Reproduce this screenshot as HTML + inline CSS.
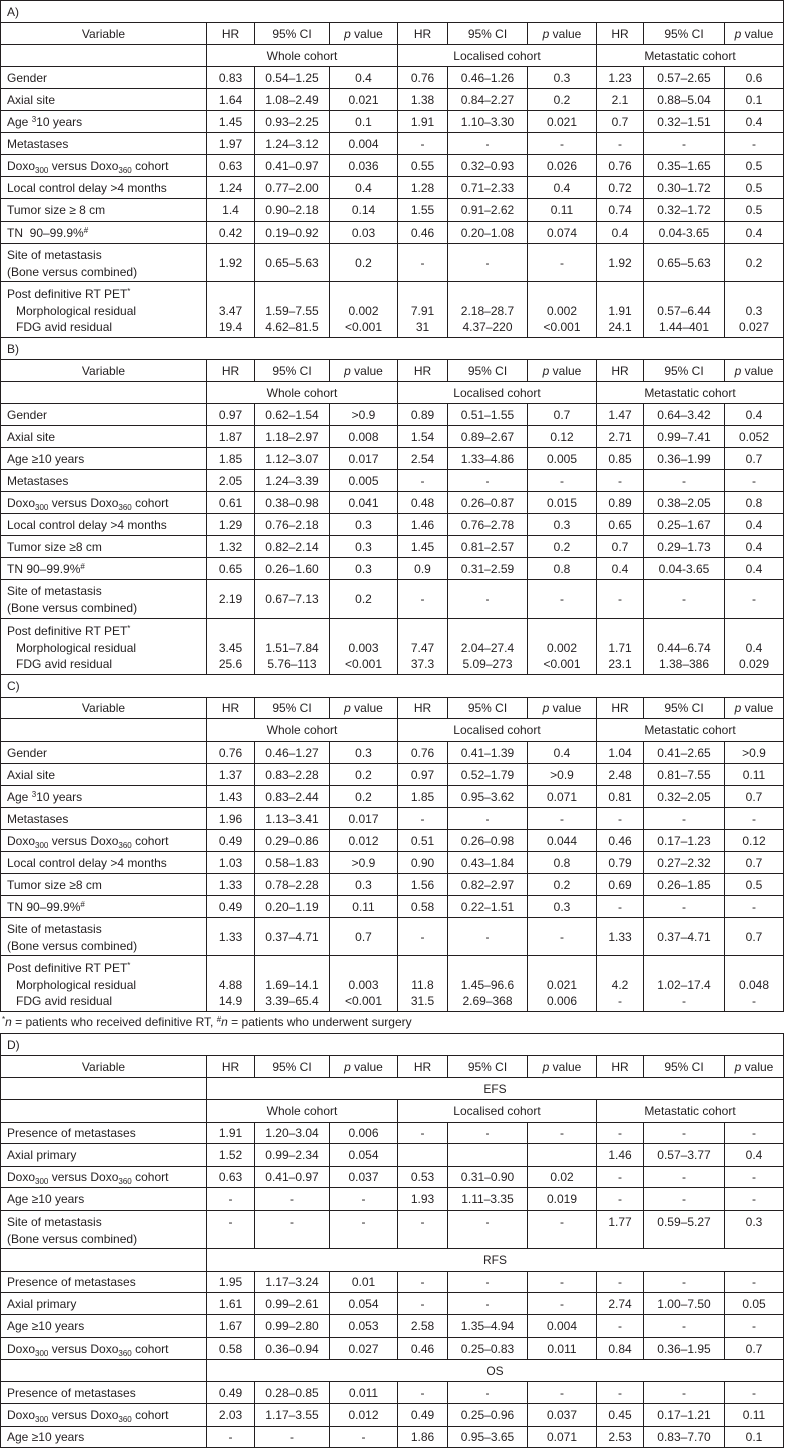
<!DOCTYPE html>
<html>
<head>
<meta charset="utf-8">
<style>
html,body{margin:0;padding:0;background:#fff;}
body{width:785px;height:1448px;position:relative;overflow:hidden;font-family:"Liberation Sans",Arial,sans-serif;font-size:12px;color:#231f20;}
.g{position:absolute;left:0;display:grid;grid-template-columns:206px 48px 75px 68px 50px 80px 69px 47px 81px 59px;border-left:1px solid #231f20;border-top:1px solid #231f20;width:783px;}
.g>div{box-sizing:border-box;border-right:1px solid #231f20;border-bottom:1px solid #231f20;display:flex;align-items:center;justify-content:center;white-space:nowrap;overflow:hidden;}
.g>div.v{justify-content:flex-start;padding-left:6px;}
.g>div.t{grid-column:span 10;justify-content:flex-start;padding-left:6px;}
.g>div.s3{grid-column:span 3;}
.g>div.s9{grid-column:span 9;}
.g>div.m{display:block;padding-top:3px;line-height:17px;}
.g>div.p{display:block;padding-top:4px;line-height:16.5px;text-align:center;}
.g>div.v.p{text-align:left;}
.g>div.top{display:block;padding-top:3px;line-height:17px;text-align:center;}
.in{padding-left:9px;}
sub{font-size:8px;vertical-align:-3px;line-height:0;}
sup{font-size:8px;vertical-align:4px;line-height:0;}
#abc{top:0;grid-template-rows:22px 22px 22px 22px 22px 22px 22px 22px 22px 23px 22px 38px 56px 22px 22px 22px 22px 22px 22px 22px 22px 22px 22px 22px 39px 56px 23px 21px 23px 22px 22px 22px 22px 22px 22px 22px 22px 38px 56px;}
#d{top:1033px;grid-template-rows:22px 22px 22px 23px 21px 23px 21px 23px 38px 23px 21px 22px 23px 22px 22px 22px 23px 21px;}
#fn{position:absolute;left:2px;top:1012px;height:21px;line-height:21px;white-space:nowrap;}
</style>
</head>
<body>
<div class="g" id="abc">
<!-- A -->
<div class="t">A)</div>
<div>Variable</div><div>HR</div><div>95% CI</div><div><span><i>p</i> value</span></div><div>HR</div><div>95% CI</div><div><span><i>p</i> value</span></div><div>HR</div><div>95% CI</div><div><span><i>p</i> value</span></div>
<div></div><div class="s3">Whole cohort</div><div class="s3">Localised cohort</div><div class="s3">Metastatic cohort</div>
<div class="v">Gender</div><div>0.83</div><div>0.54–1.25</div><div>0.4</div><div>0.76</div><div>0.46–1.26</div><div>0.3</div><div>1.23</div><div>0.57–2.65</div><div>0.6</div>
<div class="v">Axial site</div><div>1.64</div><div>1.08–2.49</div><div>0.021</div><div>1.38</div><div>0.84–2.27</div><div>0.2</div><div>2.1</div><div>0.88–5.04</div><div>0.1</div>
<div class="v"><span>Age <sup>3</sup>10 years</span></div><div>1.45</div><div>0.93–2.25</div><div>0.1</div><div>1.91</div><div>1.10–3.30</div><div>0.021</div><div>0.7</div><div>0.32–1.51</div><div>0.4</div>
<div class="v">Metastases</div><div>1.97</div><div>1.24–3.12</div><div>0.004</div><div>-</div><div>-</div><div>-</div><div>-</div><div>-</div><div>-</div>
<div class="v"><span>Doxo<sub>300</sub> versus Doxo<sub>360</sub> cohort</span></div><div>0.63</div><div>0.41–0.97</div><div>0.036</div><div>0.55</div><div>0.32–0.93</div><div>0.026</div><div>0.76</div><div>0.35–1.65</div><div>0.5</div>
<div class="v">Local control delay &gt;4 months</div><div>1.24</div><div>0.77–2.00</div><div>0.4</div><div>1.28</div><div>0.71–2.33</div><div>0.4</div><div>0.72</div><div>0.30–1.72</div><div>0.5</div>
<div class="v">Tumor size ≥ 8 cm</div><div>1.4</div><div>0.90–2.18</div><div>0.14</div><div>1.55</div><div>0.91–2.62</div><div>0.11</div><div>0.74</div><div>0.32–1.72</div><div>0.5</div>
<div class="v"><span>TN&nbsp;&nbsp;90–99.9%<sup>#</sup></span></div><div>0.42</div><div>0.19–0.92</div><div>0.03</div><div>0.46</div><div>0.20–1.08</div><div>0.074</div><div>0.4</div><div>0.04-3.65</div><div>0.4</div>
<div class="v m">Site of metastasis<br>(Bone versus combined)</div><div>1.92</div><div>0.65–5.63</div><div>0.2</div><div>-</div><div>-</div><div>-</div><div>1.92</div><div>0.65–5.63</div><div>0.2</div>
<div class="v p">Post definitive RT PET<sup>*</sup><br><span class="in">Morphological residual</span><br><span class="in">FDG avid residual</span></div><div class="p">&nbsp;<br>3.47<br>19.4</div><div class="p">&nbsp;<br>1.59–7.55<br>4.62–81.5</div><div class="p">&nbsp;<br>0.002<br>&lt;0.001</div><div class="p">&nbsp;<br>7.91<br>31</div><div class="p">&nbsp;<br>2.18–28.7<br>4.37–220</div><div class="p">&nbsp;<br>0.002<br>&lt;0.001</div><div class="p">&nbsp;<br>1.91<br>24.1</div><div class="p">&nbsp;<br>0.57–6.44<br>1.44–401</div><div class="p">&nbsp;<br>0.3<br>0.027</div>
<!-- B -->
<div class="t">B)</div>
<div>Variable</div><div>HR</div><div>95% CI</div><div><span><i>p</i> value</span></div><div>HR</div><div>95% CI</div><div><span><i>p</i> value</span></div><div>HR</div><div>95% CI</div><div><span><i>p</i> value</span></div>
<div></div><div class="s3">Whole cohort</div><div class="s3">Localised cohort</div><div class="s3">Metastatic cohort</div>
<div class="v">Gender</div><div>0.97</div><div>0.62–1.54</div><div>&gt;0.9</div><div>0.89</div><div>0.51–1.55</div><div>0.7</div><div>1.47</div><div>0.64–3.42</div><div>0.4</div>
<div class="v">Axial site</div><div>1.87</div><div>1.18–2.97</div><div>0.008</div><div>1.54</div><div>0.89–2.67</div><div>0.12</div><div>2.71</div><div>0.99–7.41</div><div>0.052</div>
<div class="v">Age ≥10 years</div><div>1.85</div><div>1.12–3.07</div><div>0.017</div><div>2.54</div><div>1.33–4.86</div><div>0.005</div><div>0.85</div><div>0.36–1.99</div><div>0.7</div>
<div class="v">Metastases</div><div>2.05</div><div>1.24–3.39</div><div>0.005</div><div>-</div><div>-</div><div>-</div><div>-</div><div>-</div><div>-</div>
<div class="v"><span>Doxo<sub>300</sub> versus Doxo<sub>360</sub> cohort</span></div><div>0.61</div><div>0.38–0.98</div><div>0.041</div><div>0.48</div><div>0.26–0.87</div><div>0.015</div><div>0.89</div><div>0.38–2.05</div><div>0.8</div>
<div class="v">Local control delay &gt;4 months</div><div>1.29</div><div>0.76–2.18</div><div>0.3</div><div>1.46</div><div>0.76–2.78</div><div>0.3</div><div>0.65</div><div>0.25–1.67</div><div>0.4</div>
<div class="v">Tumor size ≥8 cm</div><div>1.32</div><div>0.82–2.14</div><div>0.3</div><div>1.45</div><div>0.81–2.57</div><div>0.2</div><div>0.7</div><div>0.29–1.73</div><div>0.4</div>
<div class="v"><span>TN 90–99.9%<sup>#</sup></span></div><div>0.65</div><div>0.26–1.60</div><div>0.3</div><div>0.9</div><div>0.31–2.59</div><div>0.8</div><div>0.4</div><div>0.04-3.65</div><div>0.4</div>
<div class="v m">Site of metastasis<br>(Bone versus combined)</div><div>2.19</div><div>0.67–7.13</div><div>0.2</div><div>-</div><div>-</div><div>-</div><div>-</div><div>-</div><div>-</div>
<div class="v p">Post definitive RT PET<sup>*</sup><br><span class="in">Morphological residual</span><br><span class="in">FDG avid residual</span></div><div class="p">&nbsp;<br>3.45<br>25.6</div><div class="p">&nbsp;<br>1.51–7.84<br>5.76–113</div><div class="p">&nbsp;<br>0.003<br>&lt;0.001</div><div class="p">&nbsp;<br>7.47<br>37.3</div><div class="p">&nbsp;<br>2.04–27.4<br>5.09–273</div><div class="p">&nbsp;<br>0.002<br>&lt;0.001</div><div class="p">&nbsp;<br>1.71<br>23.1</div><div class="p">&nbsp;<br>0.44–6.74<br>1.38–386</div><div class="p">&nbsp;<br>0.4<br>0.029</div>
<!-- C -->
<div class="t">C)</div>
<div>Variable</div><div>HR</div><div>95% CI</div><div><span><i>p</i> value</span></div><div>HR</div><div>95% CI</div><div><span><i>p</i> value</span></div><div>HR</div><div>95% CI</div><div><span><i>p</i> value</span></div>
<div></div><div class="s3">Whole cohort</div><div class="s3">Localised cohort</div><div class="s3">Metastatic cohort</div>
<div class="v">Gender</div><div>0.76</div><div>0.46–1.27</div><div>0.3</div><div>0.76</div><div>0.41–1.39</div><div>0.4</div><div>1.04</div><div>0.41–2.65</div><div>&gt;0.9</div>
<div class="v">Axial site</div><div>1.37</div><div>0.83–2.28</div><div>0.2</div><div>0.97</div><div>0.52–1.79</div><div>&gt;0.9</div><div>2.48</div><div>0.81–7.55</div><div>0.11</div>
<div class="v"><span>Age <sup>3</sup>10 years</span></div><div>1.43</div><div>0.83–2.44</div><div>0.2</div><div>1.85</div><div>0.95–3.62</div><div>0.071</div><div>0.81</div><div>0.32–2.05</div><div>0.7</div>
<div class="v">Metastases</div><div>1.96</div><div>1.13–3.41</div><div>0.017</div><div>-</div><div>-</div><div>-</div><div>-</div><div>-</div><div>-</div>
<div class="v"><span>Doxo<sub>300</sub> versus Doxo<sub>360</sub> cohort</span></div><div>0.49</div><div>0.29–0.86</div><div>0.012</div><div>0.51</div><div>0.26–0.98</div><div>0.044</div><div>0.46</div><div>0.17–1.23</div><div>0.12</div>
<div class="v">Local control delay &gt;4 months</div><div>1.03</div><div>0.58–1.83</div><div>&gt;0.9</div><div>0.90</div><div>0.43–1.84</div><div>0.8</div><div>0.79</div><div>0.27–2.32</div><div>0.7</div>
<div class="v">Tumor size ≥8 cm</div><div>1.33</div><div>0.78–2.28</div><div>0.3</div><div>1.56</div><div>0.82–2.97</div><div>0.2</div><div>0.69</div><div>0.26–1.85</div><div>0.5</div>
<div class="v"><span>TN 90–99.9%<sup>#</sup></span></div><div>0.49</div><div>0.20–1.19</div><div>0.11</div><div>0.58</div><div>0.22–1.51</div><div>0.3</div><div>-</div><div>-</div><div>-</div>
<div class="v m">Site of metastasis<br>(Bone versus combined)</div><div>1.33</div><div>0.37–4.71</div><div>0.7</div><div>-</div><div>-</div><div>-</div><div>1.33</div><div>0.37–4.71</div><div>0.7</div>
<div class="v p">Post definitive RT PET<sup>*</sup><br><span class="in">Morphological residual</span><br><span class="in">FDG avid residual</span></div><div class="p">&nbsp;<br>4.88<br>14.9</div><div class="p">&nbsp;<br>1.69–14.1<br>3.39–65.4</div><div class="p">&nbsp;<br>0.003<br>&lt;0.001</div><div class="p">&nbsp;<br>11.8<br>31.5</div><div class="p">&nbsp;<br>1.45–96.6<br>2.69–368</div><div class="p">&nbsp;<br>0.021<br>0.006</div><div class="p">&nbsp;<br>4.2<br>-</div><div class="p">&nbsp;<br>1.02–17.4<br>-</div><div class="p">&nbsp;<br>0.048<br>-</div>
</div>

<div id="fn"><sup>*</sup><i>n</i> = patients who received definitive RT, <sup>#</sup><i>n</i> = patients who underwent surgery</div>

<div class="g" id="d">
<div class="t">D)</div>
<div>Variable</div><div>HR</div><div>95% CI</div><div><span><i>p</i> value</span></div><div>HR</div><div>95% CI</div><div><span><i>p</i> value</span></div><div>HR</div><div>95% CI</div><div><span><i>p</i> value</span></div>
<div></div><div class="s9">EFS</div>
<div></div><div class="s3">Whole cohort</div><div class="s3">Localised cohort</div><div class="s3">Metastatic cohort</div>
<div class="v">Presence of metastases</div><div>1.91</div><div>1.20–3.04</div><div>0.006</div><div>-</div><div>-</div><div>-</div><div>-</div><div>-</div><div>-</div>
<div class="v">Axial primary</div><div>1.52</div><div>0.99–2.34</div><div>0.054</div><div></div><div></div><div></div><div>1.46</div><div>0.57–3.77</div><div>0.4</div>
<div class="v"><span>Doxo<sub>300</sub> versus Doxo<sub>360</sub> cohort</span></div><div>0.63</div><div>0.41–0.97</div><div>0.037</div><div>0.53</div><div>0.31–0.90</div><div>0.02</div><div>-</div><div>-</div><div>-</div>
<div class="v">Age ≥10 years</div><div>-</div><div>-</div><div>-</div><div>1.93</div><div>1.11–3.35</div><div>0.019</div><div>-</div><div>-</div><div>-</div>
<div class="v m">Site of metastasis<br>(Bone versus combined)</div><div class="top">-</div><div class="top">-</div><div class="top">-</div><div class="top">-</div><div class="top">-</div><div class="top">-</div><div class="top">1.77</div><div class="top">0.59–5.27</div><div class="top">0.3</div>
<div></div><div class="s9">RFS</div>
<div class="v">Presence of metastases</div><div>1.95</div><div>1.17–3.24</div><div>0.01</div><div>-</div><div>-</div><div>-</div><div>-</div><div>-</div><div>-</div>
<div class="v">Axial primary</div><div>1.61</div><div>0.99–2.61</div><div>0.054</div><div>-</div><div>-</div><div>-</div><div>2.74</div><div>1.00–7.50</div><div>0.05</div>
<div class="v">Age ≥10 years</div><div>1.67</div><div>0.99–2.80</div><div>0.053</div><div>2.58</div><div>1.35–4.94</div><div>0.004</div><div>-</div><div>-</div><div>-</div>
<div class="v"><span>Doxo<sub>300</sub> versus Doxo<sub>360</sub> cohort</span></div><div>0.58</div><div>0.36–0.94</div><div>0.027</div><div>0.46</div><div>0.25–0.83</div><div>0.011</div><div>0.84</div><div>0.36–1.95</div><div>0.7</div>
<div></div><div class="s9">OS</div>
<div class="v">Presence of metastases</div><div>0.49</div><div>0.28–0.85</div><div>0.011</div><div>-</div><div>-</div><div>-</div><div>-</div><div>-</div><div>-</div>
<div class="v"><span>Doxo<sub>300</sub> versus Doxo<sub>360</sub> cohort</span></div><div>2.03</div><div>1.17–3.55</div><div>0.012</div><div>0.49</div><div>0.25–0.96</div><div>0.037</div><div>0.45</div><div>0.17–1.21</div><div>0.11</div>
<div class="v">Age ≥10 years</div><div>-</div><div>-</div><div>-</div><div>1.86</div><div>0.95–3.65</div><div>0.071</div><div>2.53</div><div>0.83–7.70</div><div>0.1</div>
</div>
</body>
</html>
